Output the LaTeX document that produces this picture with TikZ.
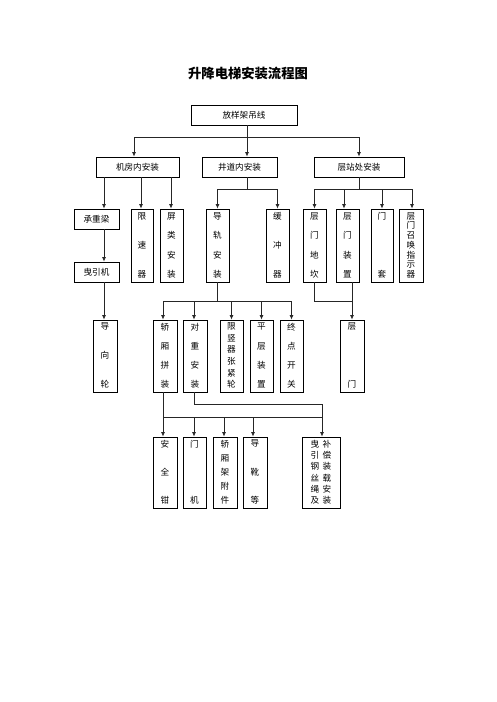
\documentclass[tikz,border=0pt]{standalone}
\usepackage{fontspec}
\newfontfamily\cjk{Noto Sans CJK SC}
\usetikzlibrary{arrows.meta}

\tikzset{
  ln/.style={line width=0.8pt, draw=black!85},
  arr/.style={ln, -{Latex[length=4.5pt,width=4pt]}},
  box/.style={draw, line width=0.8pt, inner sep=0pt, font=\cjk\fontsize{8.6}{10}\selectfont},
  chr/.style={inner sep=0pt, font=\cjk\fontsize{8.6}{10}\selectfont},
}

% characters spread from top to bottom of a tall box
\newcommand{\vtext}[4][0]{% #1 xshift, #2 box, #3 name prefix, #4 characters
  \edef\vlist{#4}%
  \foreach \vc [count=\vi] in \vlist {\xdef\vn{\vi}}%
  \foreach \vc [count=\vi] in \vlist {%
    \pgfmathsetmacro\vpos{0.1+(\vi-1)*0.79/(\vn-1)}%
    \path ([xshift=#1]#2.north) -- ([xshift=#1]#2.south)
      node[chr, pos=\vpos] (#3-\vi) {\vc};
  }}

\begin{document}
\begin{tikzpicture}[x=1pt, y=-1pt]
  \useasboundingbox (0,0) rectangle (496,702);
  % title
  \node[font=\cjk\bfseries\fontsize{13.3}{15}\selectfont] (title) at (248,73) {升降电梯安装流程图};
  % top box and the three installation areas
  \node[box, minimum width=106, minimum height=20] (top) at (244,115) {放样架吊线};
  \foreach \n/\x/\w/\t in {L/137.5/83/机房内安装, M/239.5/75/井道内安装, R/359/90/层站处安装}{
    \node[box, minimum width=\w, minimum height=20] (\n) at (\x,167) {\t};
  }
  % third row
  \node[box, minimum width=45, minimum height=20] (cz) at (96.5,219) {承重梁};
  \node[box, minimum width=45, minimum height=20] (yy) at (96.5,272) {曳引机};
  \foreach \n/\x/\w/\s in {xs/142/22/{限,速,器}, pl/171.5/23/{屏,类,安,装},
      dg/217.5/23/{导,轨,安,装}, hc/277.5/23/{缓,冲,器}, dk/314.5/23/{层,门,地,坎},
      mz/347.5/23/{层,门,装,置}, mt/382/22/{门,套}, zh/411/24/{层,门,召,唤,指,示,器}}{
    \node[box, minimum width=\w, minimum height=73] (\n) at (\x,245.5) {};
    \vtext{\n}{\n}{\s}
  }
  % fourth row
  \foreach \n/\x/\w/\s in {dx/105/24/{导,向,轮}, jx/165/24/{轿,厢,拼,装},
      dz/195/24/{对,重,安,装}, zj/231.5/23/{限,竖,器,张,紧,轮},
      pc/261.5/23/{平,层,装,置}, zd/291.5/23/{终,点,开,关}, cm/352/24/{层,门}}{
    \node[box, minimum width=\w, minimum height=72] (\n) at (\x,356) {};
    \vtext{\n}{\n}{\s}
  }
  % fifth row
  \foreach \n/\x/\w/\s in {aq/165/24/{安,全,钳}, mj/194.5/23/{门,机},
      fj/225/24/{轿,厢,架,附,件}, dxu/255/24/{导,靴,等}}{
    \node[box, minimum width=\w, minimum height=71] (\n) at (\x,472.5) {};
    \vtext{\n}{\n}{\s}
  }
  \node[box, minimum width=38, minimum height=71] (gs) at (321,472.5) {};
  \vtext[-6]{gs}{gsa}{曳,引,钢,丝,绳,及}
  \vtext[6]{gs}{gsb}{补,偿,装,载,安,装}

  % top to the three areas
  \coordinate (j0) at (247,137);
  \draw[ln] ([xshift=3]top.south) -- (j0);
  \draw[arr] (j0) -| ([xshift=-3.5]L.north);
  \draw[arr] (j0) -- ([xshift=7.5]M.north);
  \draw[arr] (j0) -| (R);
  % machine room
  \foreach \t/\s in {cz/7.5, xs/-1, pl/-0.5}{
    \draw[arr] ([xshift=\s]\t.north |- L.south) -- ([xshift=\s]\t.north);
  }
  \draw[arr] ([xshift=7.5]cz.south) -- ([xshift=7.5]yy.north);
  \draw[arr] ([xshift=7.5]yy.south) -- ([xshift=-1]dx.north);
  % shaft
  \coordinate (j1) at (247,189);
  \draw[ln] ([xshift=7.5]M.south) -- (j1);
  \draw[arr] (j1) -| (dg);
  \draw[arr] (j1) -| (hc);
  % landings
  \coordinate (j2) at (359,189);
  \draw[ln] (R.south) -- (j2);
  \foreach \t/\s in {dk/0, mz/-3.5, mt/0, zh/1}{
    \draw[arr] (j2) -| ([xshift=\s]\t.north);
  }
  % guide rail branch
  \coordinate (j3) at (217.5,301);
  \draw[ln] (dg.south) -- (j3);
  \foreach \t/\s in {jx/-2, dz/-1, zj/0, pc/0, zd/0}{
    \draw[arr] (j3) -| ([xshift=\s]\t.north);
  }
  % landing doors
  \coordinate (j4) at (352,301);
  \draw[ln] (dk.south) |- (j4);
  \draw[arr] ([xshift=4.5]mz.south) -- (cm);
  % car and counterweight
  \coordinate (j5) at (322,404);
  \coordinate (j6) at (322,417);
  \draw[arr] ([xshift=-2]jx.south) -- ([xshift=-2]aq.north);
  \draw[ln] ([xshift=-1]dz.south) |- (j5);
  \draw[arr] (j5) -- (j5 |- gs.north);
  \draw[ln] ([xshift=-2]jx.south |- j6) -- (j6);
  \foreach \t/\s in {mj/-0.5, fj/-1, dxu/-2}{
    \draw[arr] ([xshift=\s]\t.north |- j6) -- ([xshift=\s]\t.north);
  }
\end{tikzpicture}
\end{document}
